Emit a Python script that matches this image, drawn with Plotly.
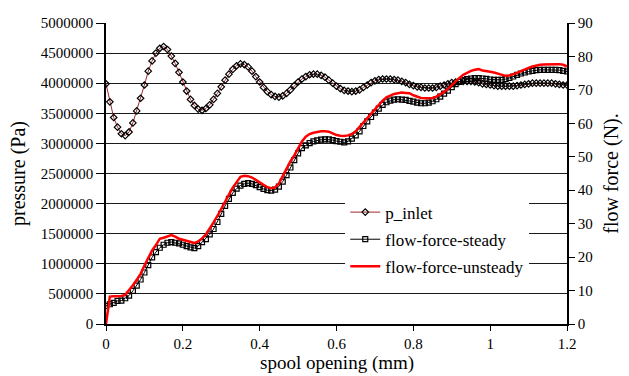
import numpy as np
import plotly.graph_objects as go

# spool opening (mm), sampled every 0.01 mm
opening = [round(i * 0.01, 2) for i in range(121)]

# inlet pressure (Pa)
p_inlet = [
    3990000, 3690000, 3430000, 3270000, 3160000, 3130000, 3190000, 3340000, 3540000, 3750000,
    3970000, 4200000, 4370000, 4500000, 4580000, 4610000, 4560000, 4450000, 4330000, 4180000,
    4020000, 3870000, 3730000, 3630000, 3570000, 3550000, 3580000, 3640000, 3730000, 3830000,
    3940000, 4050000, 4150000, 4230000, 4290000, 4320000, 4310000, 4270000, 4200000, 4110000,
    4020000, 3930000, 3860000, 3810000, 3780000, 3770000, 3790000, 3830000, 3890000, 3960000,
    4020000, 4070000, 4110000, 4140000, 4150000, 4150000, 4130000, 4100000, 4050000, 4000000,
    3950000, 3910000, 3880000, 3870000, 3860000, 3870000, 3890000, 3930000, 3970000, 4010000,
    4040000, 4060000, 4070000, 4070000, 4070000, 4060000, 4050000, 4030000, 4010000, 3980000,
    3960000, 3940000, 3930000, 3920000, 3920000, 3920000, 3930000, 3950000, 3970000, 3990000,
    4010000, 4020000, 4030000, 4030000, 4030000, 4030000, 4020000, 4010000, 3990000, 3980000,
    3970000, 3960000, 3950000, 3950000, 3950000, 3950000, 3950000, 3960000, 3970000, 3980000,
    3990000, 4000000, 4000000, 4000000, 4000000, 4000000, 4000000, 3990000, 3980000, 3970000,
    3970000,
]

# steady flow force (N)
force_steady = [
    5.4, 5.9, 6.3, 6.9, 7.0, 7.7, 8.5, 9.9, 11.5, 13.3,
    15.4, 17.6, 19.9, 21.5, 22.8, 23.7, 24.3, 24.5, 24.3, 24.1,
    23.7, 23.3, 22.9, 22.7, 23.3, 24.5, 25.4, 26.8, 28.4, 30.5,
    32.9, 35.3, 37.4, 39.2, 40.5, 41.4, 41.9, 42.1, 41.9, 41.5,
    40.9, 40.4, 40.0, 39.9, 40.2, 41.1, 42.6, 44.5, 46.8, 49.0,
    51.0, 52.6, 53.4, 54.1, 54.6, 54.9, 55.1, 55.2, 55.2, 55.0,
    54.7, 54.5, 54.3, 54.6, 55.4, 56.4, 57.6, 59.2, 60.6, 61.9,
    63.2, 64.4, 65.5, 66.3, 66.8, 67.1, 67.2, 67.1, 67.0, 66.7,
    66.5, 66.2, 66.0, 66.0, 66.2, 66.6, 67.2, 68.0, 68.9, 69.8,
    70.8, 71.7, 72.4, 72.9, 73.2, 73.4, 73.5, 73.5, 73.4, 73.3,
    73.1, 73.0, 73.0, 73.0, 73.2, 73.6, 74.0, 74.5, 74.9, 75.2,
    75.5, 75.7, 75.9, 76.0, 76.0, 76.0, 76.0, 76.0, 75.9, 75.7,
    75.5,
]

# unsteady flow force (N)
force_unsteady = [
    0.0, 8.2, 8.3, 8.3, 8.4, 8.7, 10.0, 11.6, 13.2, 15.0,
    17.5, 19.8, 22.0, 23.6, 25.5, 25.8, 26.2, 26.6, 26.1, 25.5,
    25.2, 24.9, 24.4, 24.2, 24.7, 25.6, 26.8, 28.5, 30.4, 32.3,
    34.3, 36.6, 38.7, 40.8, 42.6, 44.0, 44.3, 44.2, 43.8, 43.0,
    42.4, 41.6, 40.9, 40.6, 40.8, 42.0, 44.2, 46.6, 48.6, 50.4,
    52.5, 54.6, 56.0, 56.8, 57.2, 57.5, 57.6, 57.6, 57.5, 57.0,
    56.5, 56.3, 56.2, 56.4, 56.8, 57.6, 58.9, 60.3, 61.6, 62.9,
    64.3, 65.6, 66.8, 67.8, 68.4, 68.8, 69.0, 69.2, 69.1, 69.0,
    68.4, 67.9, 67.6, 67.5, 67.5, 67.6, 68.0, 68.6, 69.4, 70.3,
    71.5, 72.7, 73.6, 74.5, 75.2, 75.7, 76.0, 76.2, 75.8, 75.5,
    75.4, 75.2, 74.8, 74.5, 74.2, 74.3, 74.6, 75.1, 75.6, 76.2,
    76.6, 77.0, 77.3, 77.5, 77.6, 77.7, 77.7, 77.7, 77.7, 77.5,
    77.0,
]

x_ticks = [0, 0.2, 0.4, 0.6, 0.8, 1.0, 1.2]
x_ticktext = ["0", "0.2", "0.4", "0.6", "0.8", "1", "1.2"]

SERIF = "Liberation Serif, Times New Roman, serif"

fig = go.Figure()

fig.add_trace(go.Scatter(
    x=opening, y=p_inlet, name="p_inlet", legendgroup="a",
    mode="lines+markers",
    line=dict(color="#a0282a", width=1),
    marker=dict(symbol="diamond-open", size=5, color="black", line=dict(width=1.2)),
    yaxis="y",
))
fig.add_trace(go.Scatter(
    x=opening, y=force_steady, name="flow-force-steady", legendgroup="b",
    mode="lines+markers",
    line=dict(color="black", width=1),
    marker=dict(symbol="square-open", size=5, color="black", line=dict(width=1.2)),
    yaxis="y2",
))
fig.add_trace(go.Scatter(
    x=opening, y=force_unsteady, name="flow-force-unsteady", legendgroup="c",
    mode="lines",
    line=dict(color="#ff0000", width=2.5),
    yaxis="y2",
))

axis_font = dict(family=SERIF, size=15, color="black")
title_font = dict(family=SERIF, size=20, color="black")

fig.update_layout(
    width=629, height=376,
    margin=dict(l=106, r=62, t=23, b=52),
    paper_bgcolor="white", plot_bgcolor="white",
    font=dict(family=SERIF, color="black"),
    xaxis=dict(
        range=[0, 1.2], tickvals=x_ticks, ticktext=x_ticktext,
        showgrid=False, zeroline=False, automargin=False,
        showline=True, linecolor="black", linewidth=1.5,
        ticks="outside", ticklen=5, tickcolor="black", tickwidth=1,
        ticklabelstandoff=0,
        tickfont=axis_font,
    ),
    yaxis=dict(
        range=[0, 5000000], dtick=500000, tickformat="d",
        showgrid=True, gridcolor="#1a1a1a", gridwidth=1,
        zeroline=False, automargin=False,
        showline=True, linecolor="black", linewidth=1.5,
        ticks="outside", ticklen=8, tickcolor="black", tickwidth=1,
        tickfont=axis_font,
        title=dict(text="pressure (Pa)", font=title_font, standoff=10),
    ),
    yaxis2=dict(
        range=[0, 90], dtick=10, overlaying="y", side="right",
        showgrid=False, zeroline=False, automargin=False,
        showline=True, linecolor="black", linewidth=1.5,
        ticks="outside", ticklen=6, tickcolor="black", tickwidth=1,
        tickfont=axis_font,
        title=dict(text="flow force (N).", font=title_font, standoff=12),
    ),
    yaxis3=dict(
        range=[0, 90], dtick=10, overlaying="y", side="right",
        showgrid=False, zeroline=False, showline=False, automargin=False,
        ticks="inside", ticklen=5, tickcolor="black", tickwidth=1,
        showticklabels=False,
    ),
    legend=dict(
        x=0.519, y=0.43, xanchor="left", yanchor="top",
        bgcolor="white", borderwidth=0,
        font=dict(family=SERIF, size=17, color="black"),
        tracegroupgap=2,
    ),
    annotations=[dict(
        text="spool opening (mm)", xref="paper", yref="paper",
        x=0.5, y=-0.13, xanchor="center", yanchor="middle",
        showarrow=False, font=dict(family=SERIF, size=19, color="black"),
    )],
)

fig.write_html("out.html")
